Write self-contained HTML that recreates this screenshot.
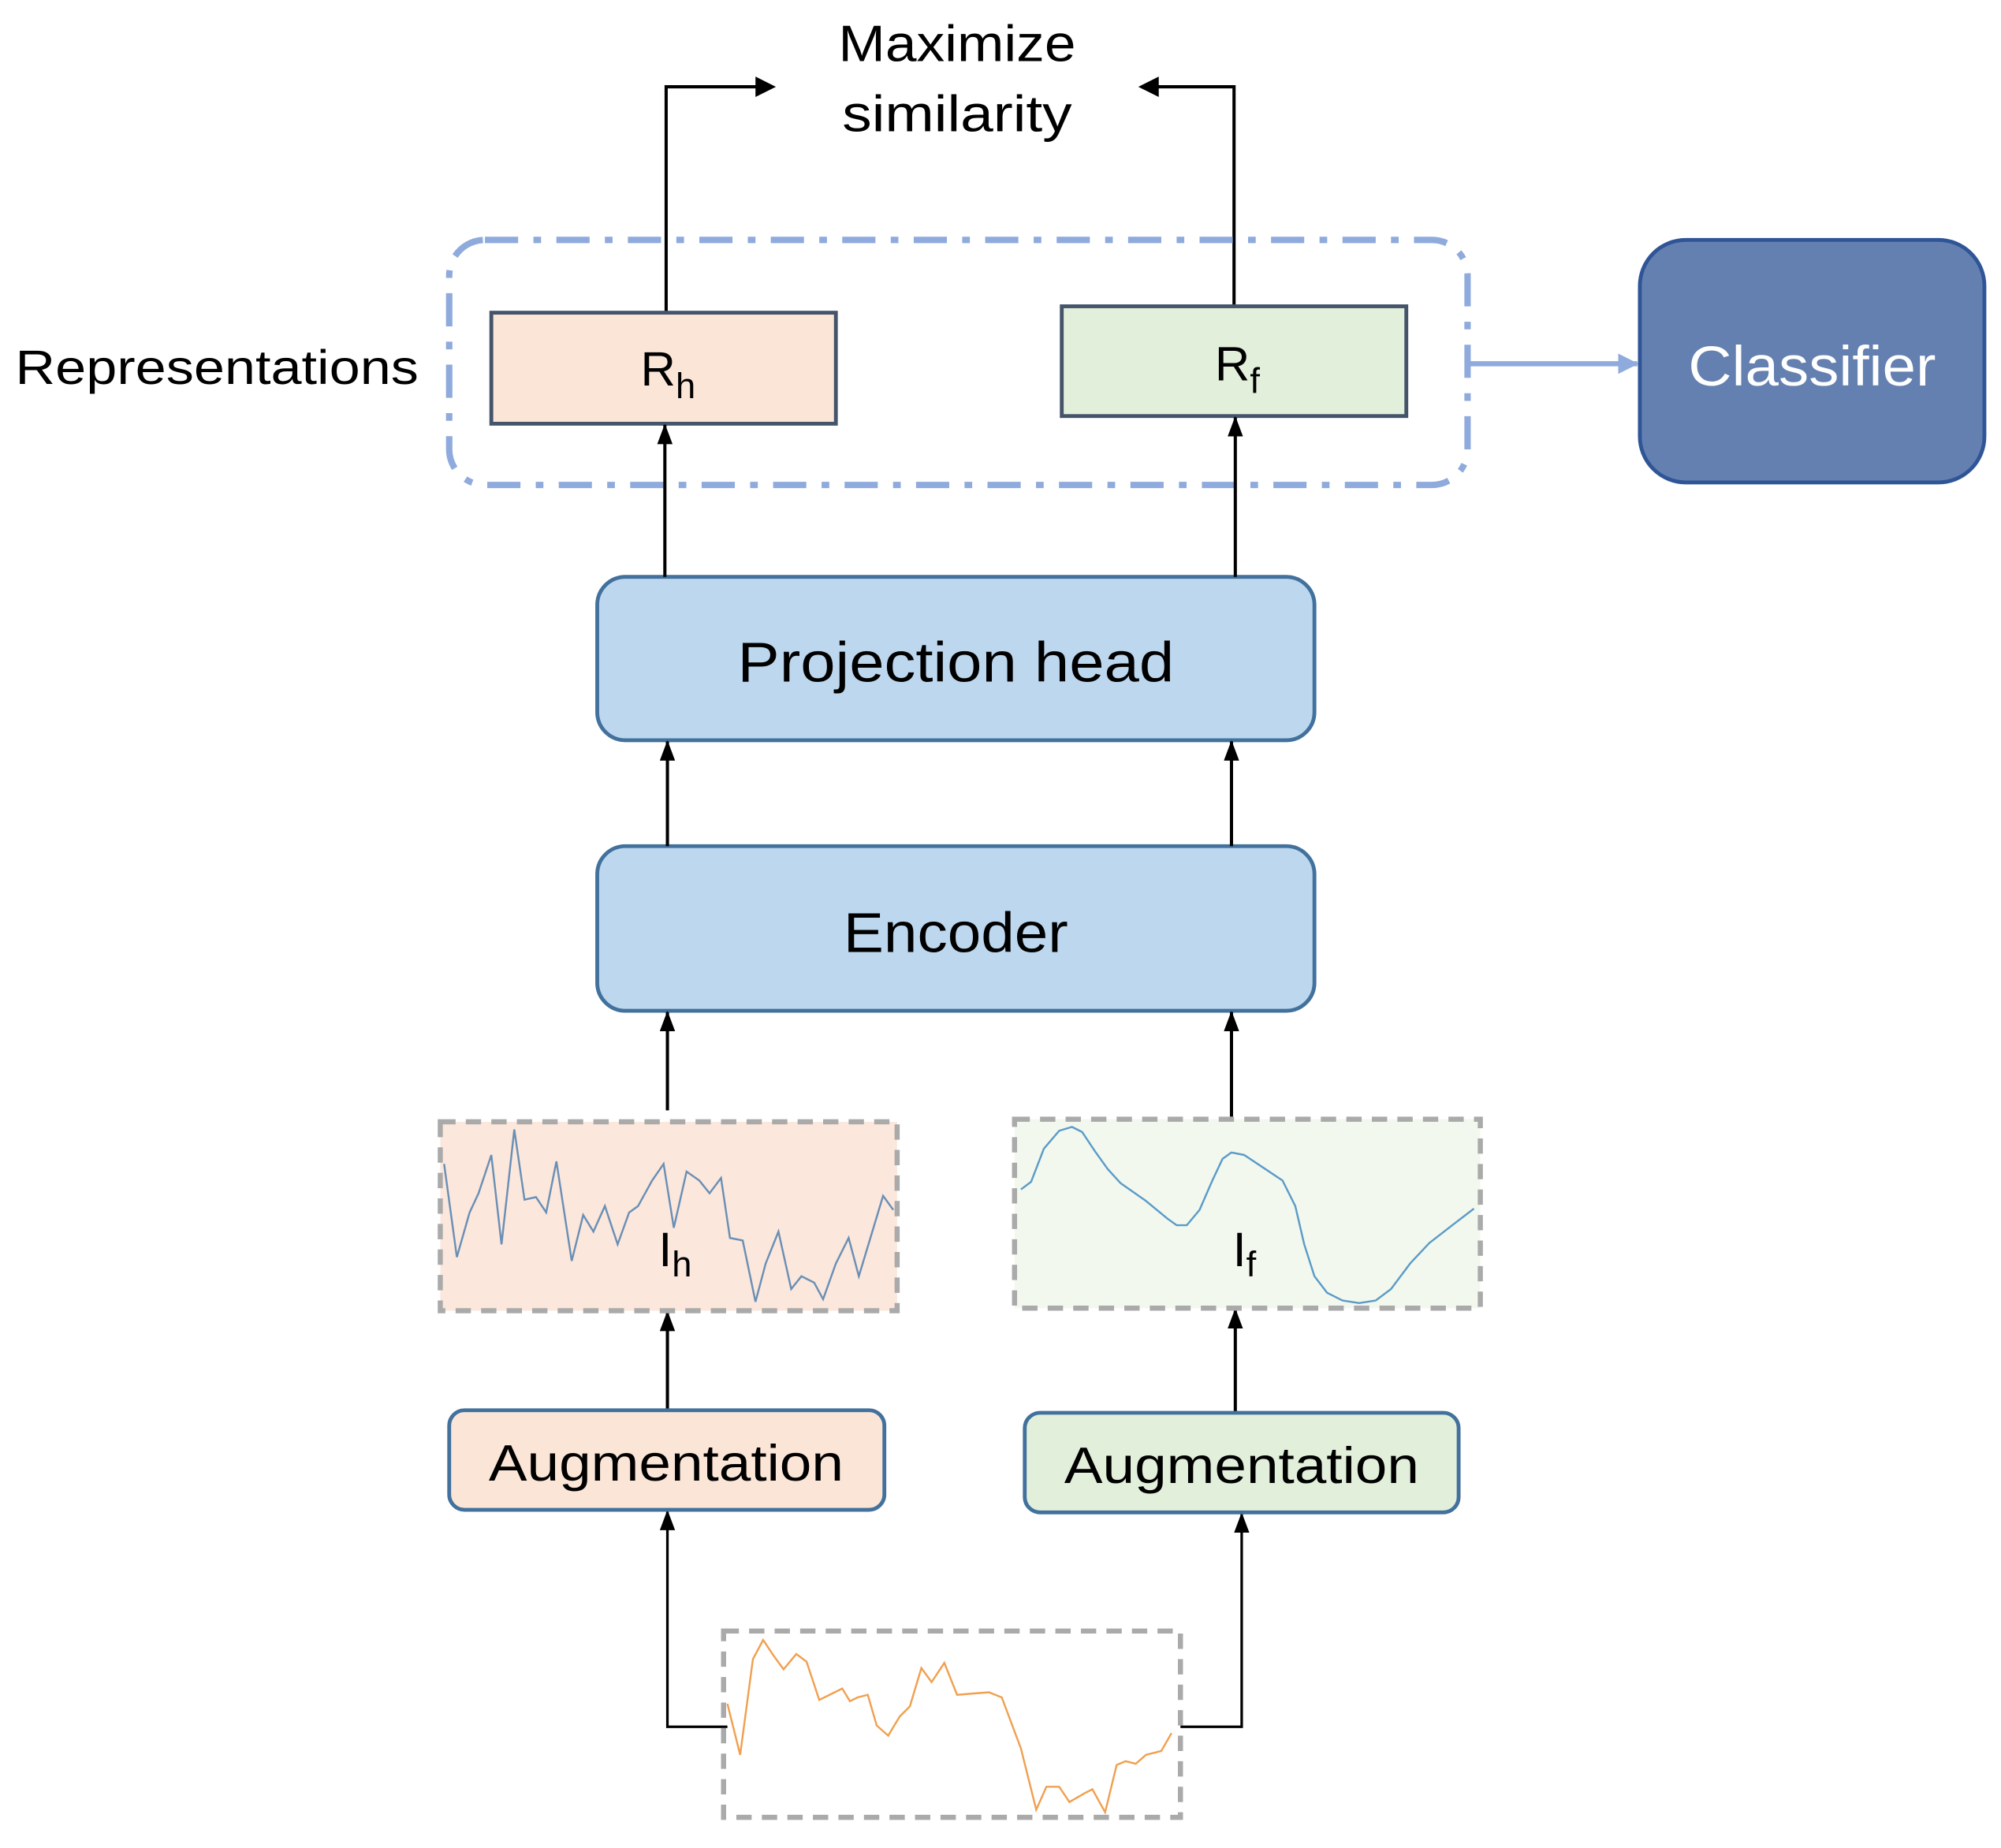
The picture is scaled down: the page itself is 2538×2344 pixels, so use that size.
<!DOCTYPE html>
<html><head><meta charset="utf-8"><style>html,body{margin:0;padding:0;background:#fff}svg{display:block}</style></head>
<body>
<svg width="2538" height="2344" viewBox="0 0 1568 1448" preserveAspectRatio="none" xmlns="http://www.w3.org/2000/svg" font-family="'Liberation Sans', sans-serif">
<defs>
<marker id="ah" markerWidth="16" markerHeight="12" refX="15" refY="6" orient="auto" markerUnits="userSpaceOnUse" viewBox="0 0 16 12"><path d="M0,0 L16,6 L0,12 Z" fill="#000"/></marker>
<marker id="ahb" markerWidth="16" markerHeight="16" refX="15" refY="8" orient="auto" markerUnits="userSpaceOnUse"><path d="M0,0 L16,8 L0,16 Z" fill="#8faadc"/></marker>
</defs>
<rect width="1568" height="1448" fill="#fff"/>
<text x="750" y="48" font-size="40" text-anchor="middle" textLength="186" lengthAdjust="spacingAndGlyphs">Maximize</text>
<text x="750" y="103" font-size="40" text-anchor="middle" textLength="180" lengthAdjust="spacingAndGlyphs">similarity</text>
<g stroke="#000" stroke-width="2.5" fill="none">
<polyline points="522,245 522,68 596,68"/>
<polyline points="967,240 967,68 904,68"/>
</g>
<path d="M608,68 L592,60 L592,76 Z"/><path d="M892,68 L908,60 L908,76 Z"/>
<rect x="352" y="188" width="798" height="192" rx="28" fill="none" stroke="#8faadc" stroke-width="5" stroke-dasharray="26,12,6,12"/>
<text x="12" y="301" font-size="38" textLength="316" lengthAdjust="spacingAndGlyphs">Representations</text>
<rect x="385" y="245" width="270" height="87" fill="#fbe5d6" stroke="#44546a" stroke-width="3"/>
<text x="502" y="302" font-size="38">R<tspan font-size="28" dy="10">h</tspan></text>
<rect x="832" y="240" width="270" height="86" fill="#e2efda" stroke="#44546a" stroke-width="3"/>
<text x="952" y="298" font-size="38">R<tspan font-size="28" dy="10">f</tspan></text>
<line x1="1150" y1="285" x2="1283" y2="285" stroke="#8faadc" stroke-width="4" marker-end="url(#ahb)"/>
<rect x="1285" y="188" width="270" height="190" rx="36" fill="#6480b0" stroke="#2f5597" stroke-width="3"/>
<text x="1420" y="302" font-size="44" fill="#fff" text-anchor="middle" textLength="194" lengthAdjust="spacingAndGlyphs">Classifier</text>
<rect x="468" y="452" width="562" height="128" rx="22" fill="#bdd7ee" stroke="#41719c" stroke-width="3"/>
<text x="749" y="534" font-size="44" text-anchor="middle" textLength="342" lengthAdjust="spacingAndGlyphs">Projection head</text>
<rect x="468" y="663" width="562" height="129" rx="22" fill="#bdd7ee" stroke="#41719c" stroke-width="3"/>
<text x="749" y="746" font-size="44" text-anchor="middle" textLength="176" lengthAdjust="spacingAndGlyphs">Encoder</text>
<g stroke="#000" stroke-width="2.5" marker-end="url(#ah)" fill="none">
<line x1="521" y1="452" x2="521" y2="333"/>
<line x1="968" y1="452" x2="968" y2="327"/>
<line x1="523" y1="663" x2="523" y2="581"/>
<line x1="965" y1="663" x2="965" y2="581"/>
<line x1="523" y1="870" x2="523" y2="793"/>
<line x1="965" y1="875" x2="965" y2="793"/>
<line x1="523" y1="1105" x2="523" y2="1028"/>
<line x1="968" y1="1107" x2="968" y2="1026"/>
</g>
<g stroke="#000" stroke-width="2" fill="none" marker-end="url(#ah)">
<polyline points="570,1353 523,1353 523,1184"/>
<polyline points="925,1353 973,1353 973,1186"/>
</g>
<rect x="345" y="879" width="358" height="148" fill="#fbe7dc" stroke="#aaa" stroke-width="4" stroke-dasharray="12,8"/>
<polyline fill="none" stroke="#6a8fb5" stroke-width="1.5" points="348,912 358,985 368,950 375,935 385,905 393,975 403,885 411,940 420,938 428,950 436,910 448,988 457,952 465,965 474,945 484,975 493,950 500,945 511,925 520,912 528,962 538,918 548,925 556,935 565,923 572,970 582,972 592,1020 600,990 610,965 620,1010 628,1000 638,1005 645,1018 655,990 665,970 673,1000 692,937 700,948"/>
<text x="516" y="992" font-size="38">I<tspan font-size="28" dy="8">h</tspan></text>
<rect x="795" y="877" width="365" height="148" fill="#f2f8ee" stroke="#aaa" stroke-width="4" stroke-dasharray="12,8"/>
<polyline fill="none" stroke="#5b9bc8" stroke-width="1.5" stroke-linejoin="round" points="800,932 808,926 818,900 830,886 840,883 848,887 858,902 868,916 878,927 898,941 915,955 922,960 930,960 940,948 950,925 958,908 965,903 975,905 990,915 1005,925 1015,945 1022,975 1030,1000 1040,1013 1052,1019 1065,1021 1078,1019 1090,1010 1105,990 1120,974 1138,960 1155,947"/>
<text x="966" y="992" font-size="38">I<tspan font-size="28" dy="8">f</tspan></text>
<rect x="352" y="1105" width="341" height="78" rx="12" fill="#fbe5d6" stroke="#41719c" stroke-width="3"/>
<text x="522" y="1160" font-size="40" text-anchor="middle" textLength="278" lengthAdjust="spacingAndGlyphs">Augmentation</text>
<rect x="803" y="1107" width="340" height="78" rx="12" fill="#e2efda" stroke="#41719c" stroke-width="3"/>
<text x="973" y="1162" font-size="40" text-anchor="middle" textLength="278" lengthAdjust="spacingAndGlyphs">Augmentation</text>
<rect x="567" y="1278" width="358" height="146" fill="none" stroke="#aaa" stroke-width="4" stroke-dasharray="12,8"/>
<polyline fill="none" stroke="#f0a050" stroke-width="1.5" points="570,1335 580,1375 590,1300 598,1285 606,1297 614,1308 624,1296 632,1302 642,1332 650,1328 660,1323 666,1333 672,1330 680,1328 687,1352 696,1360 705,1345 713,1337 722,1307 730,1318 740,1303 750,1328 762,1327 775,1326 785,1330 800,1370 812,1418 820,1400 830,1400 838,1412 850,1405 856,1402 866,1420 875,1383 882,1380 890,1382 898,1375 910,1372 918,1358"/>
</svg>
</body></html>
